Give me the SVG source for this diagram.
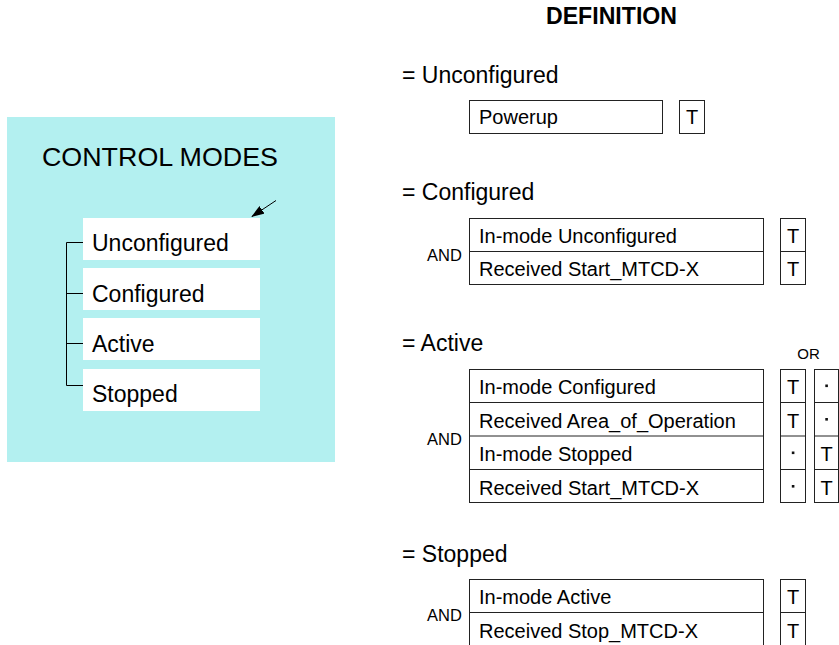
<svg xmlns="http://www.w3.org/2000/svg" width="839" height="645" viewBox="0 0 839 645">
<style>
  text { font-family: "Liberation Sans", Arial, Helvetica, sans-serif; fill: #000; }
  .title { font-size: 26px; }
  .mode { font-size: 23px; }
  .head { font-size: 23px; }
  .defh { font-size: 23px; font-weight: bold; }
  .cell { font-size: 20px; }
  .op { font-size: 16.5px; }
  .or { font-size: 15px; }
  .tv { font-size: 20px; text-anchor: middle; }
  .box { fill: #fff; stroke: #222; stroke-width: 1; }
  .div { stroke: #222; stroke-width: 1; fill: none; }
  .wbox { fill: #fff; stroke: none; }
  .tree { stroke: #000; stroke-width: 1; fill: none; }
  .dot { fill: #111; }
</style>
<defs>
  <marker id="ah" markerWidth="13" markerHeight="9" refX="12" refY="4.5" orient="auto" markerUnits="userSpaceOnUse">
    <path d="M0,0 L13,4.5 L0,9 z" fill="#000"/>
  </marker>
</defs>
<rect width="839" height="645" fill="#fff"/>

<!-- Left panel -->
<g id="control-modes">
  <rect x="7" y="117" width="328" height="345" fill="#b3f0f0"/>
  <text class="title" x="42" y="166" textLength="236" lengthAdjust="spacingAndGlyphs">CONTROL MODES</text>
</g>
<g id="mode-unconfigured">
  <rect class="wbox" x="83" y="218" width="177" height="42"/>
  <text class="mode" x="92" y="251">Unconfigured</text>
</g>
<g id="mode-configured">
  <rect class="wbox" x="83" y="268" width="177" height="42"/>
  <text class="mode" x="92" y="301.5">Configured</text>
</g>
<g id="mode-active">
  <rect class="wbox" x="83" y="318" width="177" height="42"/>
  <text class="mode" x="92" y="352">Active</text>
</g>
<g id="mode-stopped">
  <rect class="wbox" x="83" y="369" width="177" height="42"/>
  <text class="mode" x="92" y="402">Stopped</text>
</g>

<g id="connectors">
  <path class="tree" d="M83,242.5 H66.5 V385.5 H83 M66.5,293.5 H83 M66.5,343.5 H83"/>
  <line x1="276" y1="200.5" x2="252" y2="216.5" stroke="#000" stroke-width="1" marker-end="url(#ah)"/>
</g>

<!-- Right side -->
<g id="definition-title">
  <text class="defh" x="546" y="24" textLength="131" lengthAdjust="spacingAndGlyphs">DEFINITION</text>
</g>

<g id="def-unconfigured">
  <text class="head" x="402" y="83">= Unconfigured</text>
  <rect class="box" x="469.5" y="100.5" width="193" height="33"/>
  <text class="cell" x="479" y="124">Powerup</text>
  <rect class="box" x="679.5" y="100.5" width="25" height="33"/>
  <text class="tv" x="692" y="124">T</text>
</g>

<g id="def-configured">
  <text class="head" x="402" y="200">= Configured</text>
  <text class="op" x="427" y="261">AND</text>
  <rect class="box" x="469.5" y="218.5" width="294" height="66"/>
  <line class="div" x1="469.5" y1="251.5" x2="763.5" y2="251.5"/>
  <text class="cell" x="479" y="243">In-mode Unconfigured</text>
  <text class="cell" x="479" y="276">Received Start_MTCD-X</text>
  <rect class="box" x="780.5" y="218.5" width="25" height="66"/>
  <line class="div" x1="780.5" y1="251.5" x2="805.5" y2="251.5"/>
  <text class="tv" x="793" y="243">T</text>
  <text class="tv" x="793" y="276">T</text>
</g>

<g id="def-active">
  <text class="head" x="402" y="351">= Active</text>
  <text class="or" x="808.5" y="359" text-anchor="middle">OR</text>
  <text class="op" x="427" y="445">AND</text>
  <rect class="box" x="469.5" y="369.5" width="294" height="133"/>
  <path class="div" d="M469.5,402.5 H763.5 M469.5,436 H763.5 M469.5,469.5 H763.5"/>
  <text class="cell" x="479" y="394">In-mode Configured</text>
  <text class="cell" x="479" y="427.5">Received Area_of_Operation</text>
  <text class="cell" x="479" y="461">In-mode Stopped</text>
  <text class="cell" x="479" y="494.5">Received Start_MTCD-X</text>
  <rect class="box" x="780.5" y="369.5" width="25" height="133"/>
  <path class="div" d="M780.5,402.5 H805.5 M780.5,436 H805.5 M780.5,469.5 H805.5"/>
  <rect class="box" x="814.5" y="369.5" width="24" height="133"/>
  <path class="div" d="M814.5,402.5 H838.5 M814.5,436 H838.5 M814.5,469.5 H838.5"/>
  <text class="tv" x="793" y="394">T</text>
  <text class="tv" x="793" y="427.5">T</text>
  <rect class="dot" x="791.8" y="451.5" width="2.6" height="2.6"/>
  <rect class="dot" x="791.8" y="485" width="2.6" height="2.6"/>
  <rect class="dot" x="825.3" y="384.5" width="2.6" height="2.6"/>
  <rect class="dot" x="825.3" y="418" width="2.6" height="2.6"/>
  <text class="tv" x="826.5" y="461">T</text>
  <text class="tv" x="826.5" y="494.5">T</text>
</g>

<g id="def-stopped">
  <text class="head" x="402" y="561.5">= Stopped</text>
  <text class="op" x="427" y="620.5">AND</text>
  <rect class="box" x="469.5" y="579.5" width="294" height="67"/>
  <line class="div" x1="469.5" y1="612.5" x2="763.5" y2="612.5"/>
  <text class="cell" x="479" y="604">In-mode Active</text>
  <text class="cell" x="479" y="637.5">Received Stop_MTCD-X</text>
  <rect class="box" x="780.5" y="579.5" width="25" height="67"/>
  <line class="div" x1="780.5" y1="612.5" x2="805.5" y2="612.5"/>
  <text class="tv" x="793" y="604">T</text>
  <text class="tv" x="793" y="637.5">T</text>
</g>
</svg>
